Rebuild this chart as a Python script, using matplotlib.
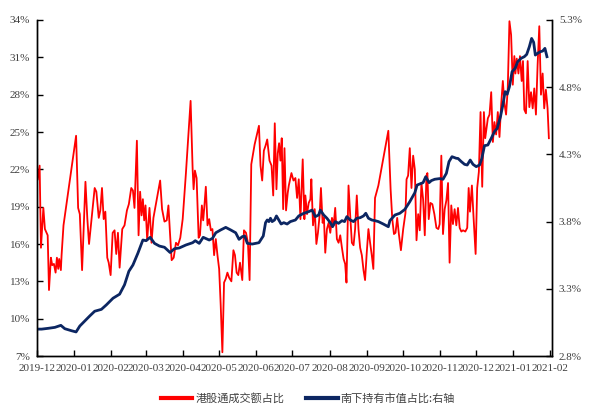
import numpy as np
import pandas as pd
import matplotlib
matplotlib.use("Agg")
import matplotlib.pyplot as plt
import matplotlib.dates as mdates
from matplotlib.ticker import FuncFormatter
from matplotlib.lines import Line2D

# days since 2019-12-01, values in %
red_day = [0.6, 2.2, 3.3, 5.3, 6.6, 8.0, 8.9, 10.0, 11.6, 12.7, 14.1, 15.5, 16.6, 17.7, 18.5, 19.9,
           20.5, 22.1, 32.6, 34.3, 35.7, 37.6, 40.4, 42.0, 43.4, 45.4, 48.1, 49.5, 51.5, 52.8, 54.2,
           55.6, 57.0, 58.6, 59.8, 61.4, 63.1, 64.7, 66.1, 67.5,
           68.9, 71.1, 73.0, 75.0, 76.6, 78.6, 80.0, 81.3, 83.3, 84.7, 86.0, 87.2, 88.3, 89.4, 90.5,
           91.9, 93.8, 95.5, 97.1, 99.9, 102.7, 104.3, 106.3, 108.2, 109.6, 110.9, 112.3, 114.0,
           115.9, 117.6, 119.5, 121.5, 124.2, 128.1, 129.8, 130.6, 131.7, 133.1, 134.8, 135.9,
           137.5, 138.6,
           139.4, 140.8, 142.2, 143.6, 145.0, 146.3, 147.7, 149.1, 150.5, 151.9, 153.2, 154.6, 156.0,
           157.4, 158.8, 160.2, 162.1, 163.8, 165.1, 166.5, 167.9, 169.3, 171.2, 172.6, 174.3, 175.9,
           177.3, 178.7, 181.5, 183.7, 185.1, 186.4, 187.8, 189.2, 190.6, 192.0, 193.9, 195.6, 197.0,
           198.3, 199.7, 200.8, 201.9, 203.0, 204.1, 205.3, 206.4, 207.7, 209.1,
           210.0, 212.2, 213.9, 215.5, 216.9, 218.3, 219.7, 221.6, 223.0, 223.8, 225.2, 226.6, 228.0,
           228.8, 230.2, 231.6, 233.0, 234.3, 235.7, 236.8, 238.2, 239.3, 240.4, 241.8, 243.2, 244.6,
           246.0, 247.4, 248.7, 250.1, 251.5, 252.9, 254.3, 255.7, 257.0, 258.1, 259.8, 261.2, 262.6,
           264.0, 265.3, 266.7, 268.1, 269.5, 270.9, 272.3, 273.6, 275.0, 276.4, 277.8, 279.2,
           280.5, 281.9, 284.7, 293.0, 294.9, 296.3, 297.7, 299.0, 300.4, 301.8, 303.5, 305.4, 307.3,
           308.2, 309.5, 310.9, 312.3, 313.7, 315.1, 316.5, 317.9, 319.2, 320.6, 322.0, 323.4, 324.8,
           325.6, 326.7, 328.1, 329.7, 331.4, 333.1, 334.7, 335.8, 337.2, 338.6, 340.0, 341.4, 342.8,
           344.1, 345.5, 346.9, 348.3, 349.7,
           351.1, 352.5, 353.9, 355.3, 357.2, 358.8, 360.0, 361.1, 362.7, 364.1, 365.8, 367.1, 368.5,
           369.9, 371.3, 372.7, 373.8, 374.9, 376.0, 377.4, 378.8, 380.2, 381.5, 382.9, 384.3, 385.7,
           387.1, 388.5, 389.8, 391.2, 392.6, 394.0, 395.4, 396.8, 398.1, 399.0, 400.1, 401.5, 402.8,
           404.2, 405.3, 406.4, 407.8, 409.2, 410.6, 412.0, 413.4, 414.7, 416.1, 417.5, 418.9, 420.3,
           421.7, 423.0, 424.4, 425.8, 426.9]
red_val = [21.2, 22.3, 15.7, 18.9, 17.2, 16.9, 16.7, 12.3, 14.9, 14.3, 14.4, 13.7, 14.9, 14.0, 14.8, 13.9,
           15.1, 17.5, 24.7, 18.9, 18.4, 13.9, 21.0, 18.0, 16.0, 17.9, 20.5, 20.2, 18.1, 18.7, 20.5,
           18.0, 18.6, 14.9, 14.5, 13.5, 16.9, 17.1, 15.2, 16.9,
           14.1, 17.2, 17.5, 18.7, 19.2, 20.5, 20.3, 18.9, 24.3, 16.7, 20.2, 18.3, 19.6, 17.9, 19.1,
           16.3, 18.9, 16.1, 18.1, 19.6, 21.1, 18.8, 17.8, 17.9, 19.1, 16.9, 14.7, 14.9,
           16.1, 15.9, 16.5, 18.0, 21.7, 27.5, 22.0, 20.4, 21.9, 21.3, 16.5, 16.7,
           19.1, 17.9,
           18.8, 20.6, 17.5, 18.0, 17.1, 17.2, 15.1, 16.4, 15.1, 14.0, 11.1, 7.3, 12.9,
           13.2, 13.7, 13.3, 13.0, 15.5, 15.1, 13.7, 13.5, 14.5, 13.1, 17.1, 16.9, 16.1,
           13.1, 22.4, 24.0, 24.9, 25.5, 22.3, 21.1, 23.5, 23.9, 24.4, 22.7, 22.3, 19.9,
           25.7, 20.4, 23.3, 24.1, 22.7, 24.5, 18.8, 23.7, 18.7, 20.1,
           20.7, 21.7, 21.1, 21.3, 19.7, 21.2, 18.0, 22.8, 18.0, 19.9, 18.4, 19.3, 19.6,
           21.2, 17.5, 18.8, 16.0, 16.9, 18.3, 20.5, 17.7, 18.1, 15.3, 17.2, 17.7, 16.9,
           18.1, 17.5, 18.9, 16.4, 16.1, 16.7, 15.7, 14.8, 14.4, 12.9, 20.7, 18.3, 16.1,
           15.9, 17.2, 19.9, 17.2, 15.7, 15.1, 13.9, 13.1, 15.3, 17.2, 16.1, 15.1,
           14.0, 19.7, 20.7, 25.1, 20.4, 18.0, 16.8, 16.9, 18.1, 16.8, 15.5, 17.2, 18.5,
           21.2, 21.5, 23.7, 20.5, 23.1, 22.0, 16.3, 18.4, 17.1, 20.9, 19.6, 16.7, 21.5,
           21.7, 18.0, 19.3, 19.2, 18.4, 17.3, 17.2, 17.6, 23.1, 16.8, 18.8, 19.5, 20.9,
           14.5, 19.1, 17.6, 18.8, 17.5,
           18.9, 17.3, 17.0, 17.1, 17.0, 17.3, 20.5, 18.6, 20.7, 18.1, 15.2, 20.5, 21.8,
           26.6, 20.6, 26.6, 24.5, 25.3, 26.1, 26.4, 28.2, 24.2, 25.8, 24.8, 26.6, 24.6,
           27.2, 29.1, 27.3, 26.4, 28.5, 33.9, 32.8, 28.8, 31.1, 29.7, 30.9, 29.7, 31.1,
           29.1, 30.7, 26.8, 26.5, 30.7, 27.0, 28.2, 26.9, 28.5, 26.4, 30.4, 33.5, 28.0,
           29.7, 26.9, 28.4, 26.9, 24.5]

navy_day = [0.6, 3.9, 9.4, 14.9, 19.9, 23.2, 28.8, 32.6, 35.7, 39.8, 44.0, 48.1, 53.7, 57.8, 63.4, 68.9,
            73.0, 76.6, 80.0, 84.1, 88.3, 91.0, 94.4, 98.0, 102.1, 106.3, 111.0, 114.6, 118.7, 124.2,
            129.8, 132.0, 135.3, 138.6,
            143.6, 146.3, 149.1, 153.2, 157.4, 161.5, 165.7, 168.5, 171.2, 173.2, 175.4, 179.5, 185.1,
            188.7, 190.6, 192.0, 193.4, 194.7, 196.1, 198.1, 199.7, 201.7, 203.6, 205.8, 208.6, 211.3,
            215.5, 218.3, 222.5, 226.6, 229.4, 232.1, 234.9, 236.3, 239.1, 241.8, 244.6, 246.5, 248.7,
            251.5, 254.3, 256.5, 258.4, 261.2, 264.0, 266.7, 269.5, 272.3, 274.2, 276.4, 279.2, 281.9,
            284.7, 288.8, 293.0, 294.3, 298.5, 302.6, 306.8, 310.9, 315.1, 317.0, 319.2, 322.0, 324.2,
            327.0, 328.9, 331.7, 335.8, 338.6, 341.4, 343.6, 346.1, 349.7,
            351.1, 353.9, 356.6, 358.8, 361.3, 363.6, 366.3, 369.1, 371.0, 373.2, 376.0, 378.8, 381.5,
            383.8, 386.5, 388.5, 390.4, 392.1, 394.0, 396.2, 398.7, 400.9, 403.7, 406.4, 408.4, 410.6,
            412.5, 414.2, 415.6, 417.5, 419.7, 421.7, 423.6, 425.3]
navy_val = [3.000, 3.000, 3.006, 3.013, 3.028, 3.003, 2.988, 2.979, 3.023, 3.060, 3.098, 3.133, 3.147,
            3.180, 3.230, 3.260,
            3.330, 3.430, 3.477, 3.564, 3.663, 3.658, 3.683, 3.638, 3.618, 3.609, 3.570, 3.598, 3.604,
            3.626, 3.643, 3.658, 3.638, 3.683,
            3.663, 3.675, 3.717, 3.738, 3.757, 3.738, 3.717, 3.668, 3.688, 3.693, 3.638, 3.633, 3.643,
            3.693, 3.792, 3.812, 3.800, 3.825, 3.800, 3.812, 3.842, 3.812, 3.782, 3.792, 3.782, 3.800,
            3.812, 3.842, 3.862, 3.874, 3.886, 3.837, 3.849, 3.886, 3.849, 3.825, 3.792, 3.762, 3.800,
            3.787, 3.807, 3.800, 3.837, 3.812, 3.800, 3.825, 3.829, 3.842, 3.862, 3.825, 3.812, 3.807,
            3.800, 3.782, 3.762, 3.807, 3.849, 3.862, 3.891, 3.948, 4.015, 4.072, 4.080, 4.090, 4.134,
            4.090, 4.105, 4.115, 4.120, 4.115, 4.159, 4.246, 4.283, 4.271,
            4.270, 4.246, 4.226, 4.221, 4.258, 4.226, 4.209, 4.221, 4.270, 4.365, 4.370, 4.419, 4.469,
            4.494, 4.580, 4.667, 4.767, 4.747, 4.804, 4.915, 4.940, 4.990, 5.015, 5.027, 5.044, 5.101,
            5.163, 5.134, 5.039, 5.052, 5.064, 5.069, 5.089, 5.027]

left_ticks = [7, 10, 13, 16, 19, 22, 25, 28, 31, 34]
right_ticks = [2.8, 3.3, 3.8, 4.3, 4.8, 5.3]

red_label = "港股通成交额占比"
navy_label = "南下持有市值占比:右轴"

start = pd.Timestamp("2019-12-01")
red_dates = start + pd.to_timedelta(red_day, unit="D")
navy_dates = start + pd.to_timedelta(navy_day, unit="D")

plt.rcParams['font.family'] = ['Liberation Serif', 'DejaVu Serif']
tick_color = '#404040'
red_c = '#FF0000'
navy_c = '#0C2662'

fig = plt.figure(figsize=(6.16, 4.19), dpi=100)
ax = fig.add_axes([37 / 616, 1 - 356 / 419, (552 - 37) / 616, (356 - 20) / 419])
ax2 = ax.twinx()

ax.plot(red_dates, red_val, color=red_c, lw=1.3)
ax2.plot(navy_dates, navy_val, color=navy_c, lw=2.0)

ax.set_xlim(start, start + pd.Timedelta(days=429.5))
ax.set_ylim(7, 34)
ax2.set_ylim(2.8, 5.3)
ax.set_yticks(left_ticks)
ax2.set_yticks(right_ticks)
ax.yaxis.set_major_formatter(FuncFormatter(lambda v, p: f"{v:.0f}%"))
ax2.yaxis.set_major_formatter(FuncFormatter(lambda v, p: f"{v:.1f}%"))
ax.xaxis.set_major_locator(mdates.MonthLocator())
ax.xaxis.set_major_formatter(mdates.DateFormatter('%Y-%m'))

for a in (ax, ax2):
    a.spines['top'].set_visible(False)
    for s in a.spines.values():
        s.set_linewidth(1.0)
        s.set_color('black')
ax.tick_params(axis='x', direction='in', length=4, width=1, pad=6, labelsize=8, labelcolor=tick_color)
ax.tick_params(axis='y', direction='in', length=4, width=1, pad=5, labelsize=8, labelcolor=tick_color)
ax2.tick_params(axis='y', direction='in', length=4, width=1, pad=5, labelsize=8, labelcolor=tick_color)

handles = [Line2D([], [], color=red_c, lw=3), Line2D([], [], color=navy_c, lw=3)]
fig.legend(handles, [red_label, navy_label], loc='center', bbox_to_anchor=(0.5, 0.05), ncol=2,
           frameon=False, prop={'family': ['Noto Sans CJK SC'], 'size': 8}, handlelength=2.8,
           handletextpad=0.3, columnspacing=2.0, labelcolor=tick_color)

fig.savefig("out.png", dpi=100)
